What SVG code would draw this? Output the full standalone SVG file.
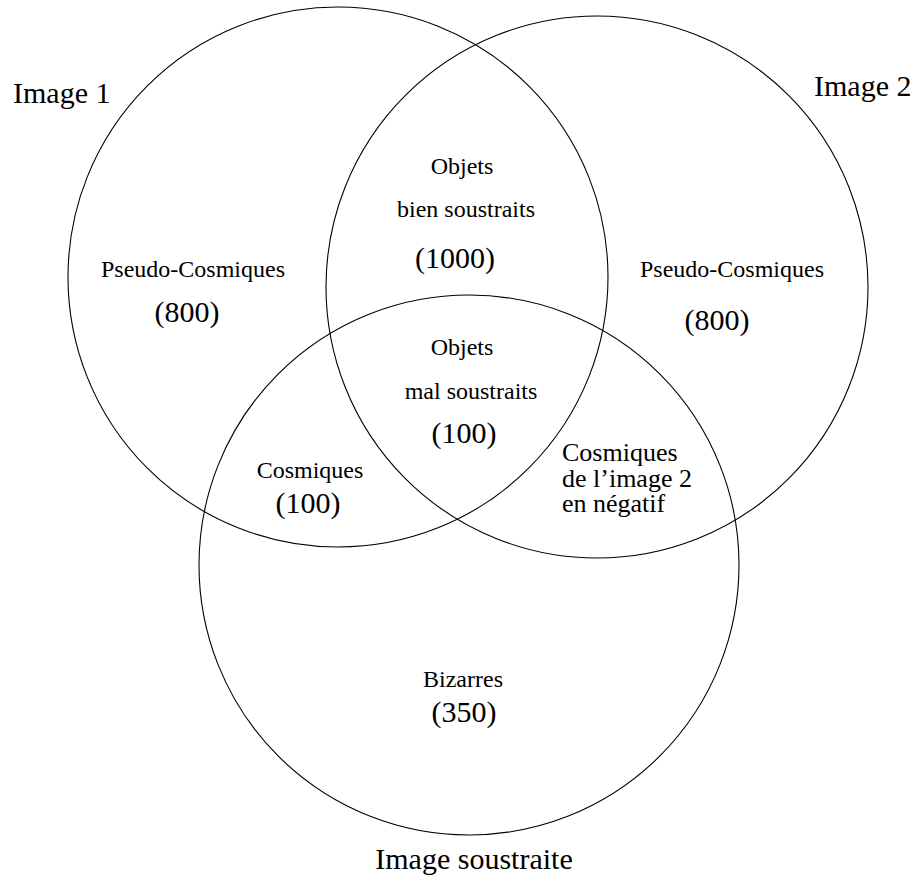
<svg xmlns="http://www.w3.org/2000/svg" width="919" height="882" viewBox="0 0 919 882">
<style>
.c{fill:none;stroke:#000;stroke-width:1.1}
text{font-family:"Liberation Serif","Times New Roman",serif;fill:#000}
.t{font-size:30px}
.l{font-size:24px;text-anchor:middle}
.n{font-size:30px;text-anchor:middle}
.r{font-size:26px}
</style>
<rect width="919" height="882" fill="#fff"/>
<g id="image1">
<circle class="c" cx="338" cy="277" r="270"/>
<text class="t" x="13" y="103">Image 1</text>
</g>
<g id="image2">
<circle class="c" cx="597" cy="287" r="271"/>
<text class="t" x="814" y="96">Image 2</text>
</g>
<g id="image3">
<circle class="c" cx="469" cy="565" r="270"/>
<text class="t" x="474" y="869" text-anchor="middle">Image soustraite</text>
</g>
<g id="labels">
<text class="l" x="193" y="277">Pseudo-Cosmiques</text>
<text class="n" x="187" y="322">(800)</text>
<text class="l" x="462" y="174">Objets</text>
<text class="l" x="466" y="217">bien soustraits</text>
<text class="n" x="455" y="268">(1000)</text>
<text class="l" x="732" y="277">Pseudo-Cosmiques</text>
<text class="n" x="717" y="330">(800)</text>
<text class="l" x="462" y="355">Objets</text>
<text class="l" x="471" y="399">mal soustraits</text>
<text class="n" x="464" y="443">(100)</text>
<text class="l" x="310" y="478">Cosmiques</text>
<text class="n" x="308" y="513">(100)</text>
<text class="r" x="562" y="461">Cosmiques</text>
<text class="r" x="562" y="487">de l’image 2</text>
<text class="r" x="562" y="512">en négatif</text>
<text class="l" x="463" y="687">Bizarres</text>
<text class="n" x="464" y="722">(350)</text>
</g>
<g id="connectors"></g>
</svg>
